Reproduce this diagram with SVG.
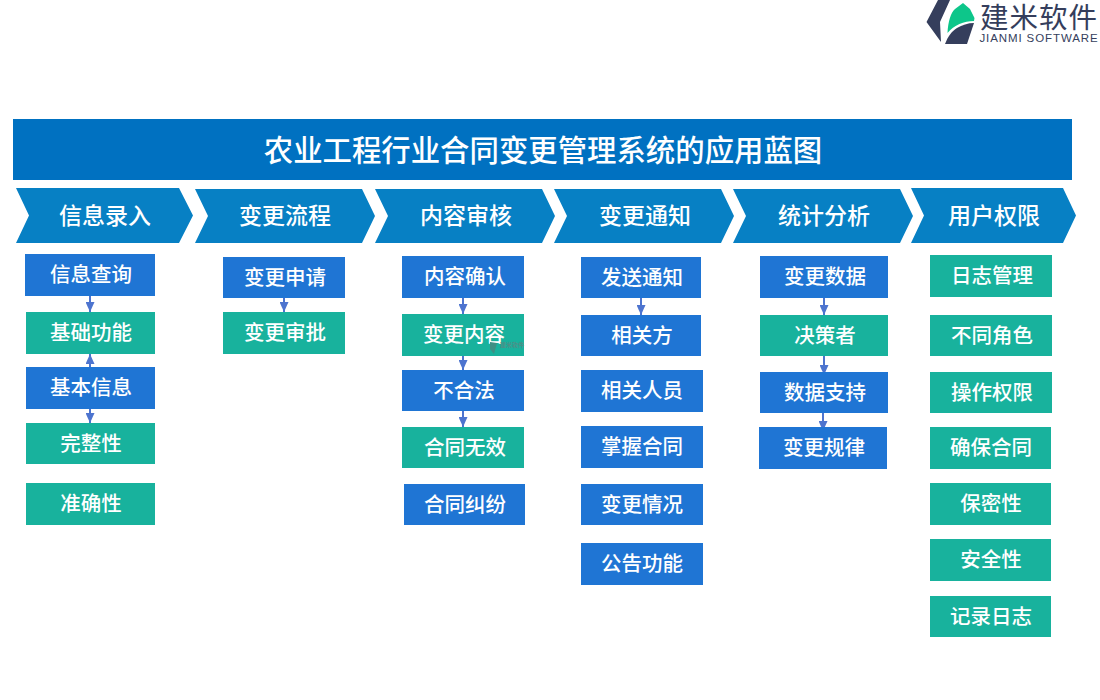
<svg xmlns="http://www.w3.org/2000/svg" width="1100" height="700" viewBox="0 0 1100 700">
<defs>
<marker id="ah" markerUnits="userSpaceOnUse" markerWidth="12" markerHeight="9" refX="10" refY="4.500" orient="auto"><path d="M0 0L10 4.500L0 9Z" fill="#4d74cf"/></marker>
</defs>
<style>
text{font-family:"Noto Sans CJK SC","Noto Sans",sans-serif;fill:#fff;text-anchor:middle;dominant-baseline:central}
.b{fill:#1f75d4}.g{fill:#18b29d}.c{fill:#0780c4}
.t{font-size:20.500px;font-weight:500}
.h{font-size:23px;font-weight:500}
.l{stroke:#4d74cf;stroke-width:2;fill:none;marker-end:url(#ah)}
</style>
<rect width="1100" height="700" fill="#fff"/>
<g id="logo">
<path d="M938 0H950L940 22L941 42L926.500 22Z" fill="#353e5c"/>
<path d="M947.500 33C948 22 951 12 955 9L963 3L970 9L974.500 18L974 21C964 21 954 25 947.500 33Z" fill="#0dc68a"/>
<path d="M945 44C948 36 952 31 957 28C962 25 968 23 974 23L967 44Z" fill="#353e5c"/>
<text x="1039" y="15" style="font-size:28.500px;fill:#353e5c;letter-spacing:1px">建米软件</text>
<text x="1039" y="38" style="font-family:'Liberation Sans',sans-serif;font-size:11.500px;fill:#353e5c;letter-spacing:0.900px">JIANMI SOFTWARE</text>
</g>
<g id="title"><rect x="13" y="119" width="1059" height="61" fill="#0071c1"/><text x="543" y="147.500" style="font-size:29.400px;font-weight:500">农业工程行业合同变更管理系统的应用蓝图</text></g>
<g id="h1"><polygon class="c" points="16,188 179,188 193,215.500 179,243 16,243 29,215.500"/><text class="h" x="105" y="213.500">信息录入</text></g>
<g id="h2"><polygon class="c" points="195,189 362,189 375,216 362,243 195,243 208,216"/><text class="h" x="285" y="214">变更流程</text></g>
<g id="h3"><polygon class="c" points="375,189 542,189 555,216 542,243 375,243 388,216"/><text class="h" x="466" y="214">内容审核</text></g>
<g id="h4"><polygon class="c" points="554,189 721,189 734,216 721,243 554,243 567,216"/><text class="h" x="645" y="214">变更通知</text></g>
<g id="h5"><polygon class="c" points="733,189 900,189 913,216 900,243 733,243 746,216"/><text class="h" x="824" y="214">统计分析</text></g>
<g id="h6"><polygon class="c" points="911,188 1063,188 1076,215.500 1063,243 911,243 924,215.500"/><text class="h" x="994" y="213.500">用户权限</text></g>
<g id="connectors">
<path class="l" d="M90 296V312"/><path class="l" d="M90 367V354"/><path class="l" d="M90 409V423"/>
<path class="l" d="M284 298V312"/>
<path class="l" d="M463 298V314"/><path class="l" d="M463 356V370"/><path class="l" d="M463 411V427"/>
<path class="l" d="M641 298V315"/>
<path class="l" d="M824 298V315"/><path class="l" d="M824 356V375"/><path class="l" d="M823 413V431"/>
</g>
<g id="n1"><rect class="b" x="25" y="254" width="130" height="42"/><text class="t" x="91" y="273">信息查询</text></g>
<g id="n2"><rect class="g" x="26" y="312" width="129" height="42"/><text class="t" x="91" y="331">基础功能</text></g>
<g id="n3"><rect class="b" x="26" y="367" width="129" height="42"/><text class="t" x="91" y="386">基本信息</text></g>
<g id="n4"><rect class="g" x="26" y="423" width="129" height="41"/><text class="t" x="91" y="442">完整性</text></g>
<g id="n5"><rect class="g" x="26" y="483" width="129" height="42"/><text class="t" x="91" y="502">准确性</text></g>
<g id="n6"><rect class="b" x="223" y="257" width="122" height="41"/><text class="t" x="285" y="276">变更申请</text></g>
<g id="n7"><rect class="g" x="223" y="312" width="122" height="42"/><text class="t" x="285" y="331">变更审批</text></g>
<g id="n8"><rect class="b" x="402" y="256" width="122" height="42"/><text class="t" x="465" y="275">内容确认</text></g>
<g id="n9"><rect class="g" x="402" y="314" width="122" height="42"/><text class="t" x="464" y="333">变更内容</text>
<path d="M490 342L497 343L494 354L490 349Z" fill="#3f8f84"/><text x="512" y="344" style="font-size:6px;fill:#4d8f88;font-weight:700">建米软件</text></g>
<g id="n10"><rect class="b" x="402" y="370" width="122" height="41"/><text class="t" x="464" y="389">不合法</text></g>
<g id="n11"><rect class="g" x="402" y="427" width="122" height="41"/><text class="t" x="465" y="446">合同无效</text></g>
<g id="n12"><rect class="b" x="404" y="484" width="121" height="41"/><text class="t" x="465" y="503">合同纠纷</text></g>
<g id="n13"><rect class="b" x="581" y="257" width="120" height="41"/><text class="t" x="642" y="276">发送通知</text></g>
<g id="n14"><rect class="b" x="581" y="315" width="120" height="41"/><text class="t" x="642" y="334">相关方</text></g>
<g id="n15"><rect class="b" x="581" y="370" width="122" height="42"/><text class="t" x="642" y="389">相关人员</text></g>
<g id="n16"><rect class="b" x="581" y="426" width="122" height="42"/><text class="t" x="642" y="445">掌握合同</text></g>
<g id="n17"><rect class="b" x="581" y="484" width="122" height="41"/><text class="t" x="642" y="503">变更情况</text></g>
<g id="n18"><rect class="b" x="581" y="543" width="122" height="42"/><text class="t" x="642" y="562">公告功能</text></g>
<g id="n19"><rect class="b" x="760" y="256" width="128" height="42"/><text class="t" x="825" y="275">变更数据</text></g>
<g id="n20"><rect class="g" x="760" y="315" width="128" height="41"/><text class="t" x="825" y="334">决策者</text></g>
<g id="n21"><rect class="b" x="760" y="372" width="128" height="41"/><text class="t" x="825" y="391">数据支持</text></g>
<g id="n22"><rect class="b" x="759" y="427" width="128" height="42"/><text class="t" x="824" y="446">变更规律</text></g>
<g id="n23"><rect class="g" x="930" y="255" width="122" height="42"/><text class="t" x="992" y="274">日志管理</text></g>
<g id="n24"><rect class="g" x="930" y="315" width="122" height="41"/><text class="t" x="992" y="334">不同角色</text></g>
<g id="n25"><rect class="g" x="930" y="372" width="122" height="41"/><text class="t" x="992" y="391">操作权限</text></g>
<g id="n26"><rect class="g" x="930" y="427" width="121" height="42"/><text class="t" x="991" y="446">确保合同</text></g>
<g id="n27"><rect class="g" x="930" y="483" width="121" height="42"/><text class="t" x="991" y="502">保密性</text></g>
<g id="n28"><rect class="g" x="930" y="539" width="121" height="42"/><text class="t" x="991" y="558">安全性</text></g>
<g id="n29"><rect class="g" x="930" y="596" width="121" height="41"/><text class="t" x="991" y="615">记录日志</text></g>
</svg>
